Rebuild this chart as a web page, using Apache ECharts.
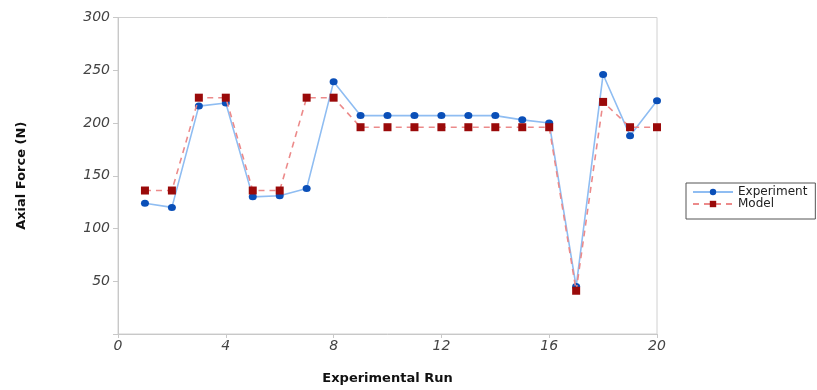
<!DOCTYPE html>
<html><head><meta charset="utf-8">
<script src="https://cdn.jsdelivr.net/npm/echarts@6/dist/echarts.min.js"></script>
<style>html,body{margin:0;padding:0;background:#fff}#c{width:817px;height:390px}</style>
</head><body><div id="c"></div>
<script>
const runs = [1,2,3,4,5,6,7,8,9,10,11,12,13,14,15,16,17,18,19,20];
const experiment = [124,120,216,219,130,131,138,239,207,207,207,207,207,207,203,200,45,246,188,221];
const model = [136,136,224,224,136,136,224,224,196,196,196,196,196,196,196,196,41,220,196,196];
const xTicks = [0,4,8,12,16,20];
const yTicks = [50,100,150,200,250,300];

const chart = echarts.init(document.getElementById('c'));
const tickFont = {fontFamily:'DejaVu Sans', fontStyle:'italic', fontSize:14, color:'#444'};
chart.setOption({
  animation:false,
  grid:{left:118,right:160,top:17.5,bottom:55.5,show:true,borderColor:'#d0d0d0',borderWidth:1},
  legend:{
    orient:'vertical', left:686, top:183,
    itemWidth:40, itemHeight:8, itemGap:0,
    padding:[3,8,9,6],
    borderColor:'#555', borderWidth:1,
    textStyle:{fontFamily:'DejaVu Sans', fontSize:12, color:'#222', lineHeight:12},
    data:['Experiment','Model']
  },
  xAxis:{
    type:'value', min:0, max:20, interval:4,
    name:'Experimental Run', nameLocation:'middle', nameGap:38,
    nameTextStyle:{fontFamily:'DejaVu Sans', fontWeight:'bold', fontSize:13, color:'#111'},
    axisLine:{lineStyle:{color:'#c8c8c8'}},
    axisTick:{show:true,length:4,lineStyle:{color:'#c8c8c8'}},
    axisLabel:Object.assign({margin:5}, tickFont),
    splitLine:{show:false}
  },
  yAxis:{
    type:'value', min:0, max:300, interval:50,
    name:'Axial Force (N)', nameLocation:'middle', nameGap:90, nameRotate:90,
    nameTextStyle:{fontFamily:'DejaVu Sans', fontWeight:'bold', fontSize:13, color:'#111'},
    axisLine:{show:true,lineStyle:{color:'#c8c8c8'}},
    axisTick:{show:true,length:5,lineStyle:{color:'#c8c8c8'}},
    axisLabel:Object.assign({margin:8, formatter:v=> yTicks.indexOf(v)>=0 ? String(v) : ''}, tickFont),
    splitLine:{show:false}
  },
  series:[
    {name:'Experiment', type:'line', data:runs.map((r,i)=>[r,experiment[i]]),
     symbol:'circle', symbolSize:[8,7],
     lineStyle:{color:'#8fbdf2', width:1.6},
     itemStyle:{color:'#0a4fb8'}, z:2},
    {name:'Model', type:'line', data:runs.map((r,i)=>[r,model[i]]),
     symbol:'rect', symbolSize:8,
     lineStyle:{color:'#ec8a8a', width:1.6, type:[6,5]},
     itemStyle:{color:'#9a0a0a'}, z:3}
  ]
});
</script></body></html>
